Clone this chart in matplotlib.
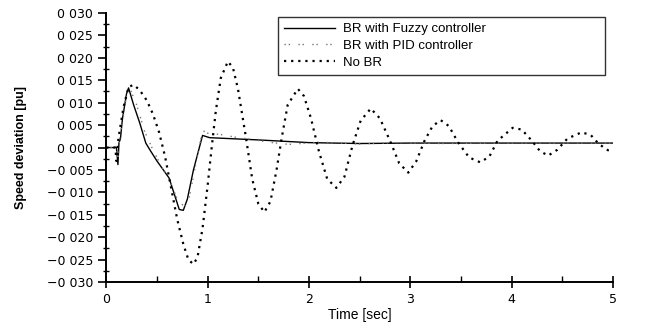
import matplotlib
matplotlib.use("Agg")
import matplotlib.pyplot as plt
from matplotlib.ticker import MultipleLocator, FuncFormatter

plt.rcParams['font.family'] = ['Liberation Sans', 'DejaVu Sans']

# No BR
t_nobr = [0.0, 0.09, 0.1, 0.12, 0.17, 0.22, 0.27, 0.33, 0.4, 0.46, 0.52, 0.58,
          0.64, 0.7, 0.76, 0.81, 0.86, 0.9, 0.95, 1.0, 1.04, 1.08, 1.13, 1.2,
          1.25, 1.3, 1.38, 1.44, 1.5, 1.56, 1.62, 1.68, 1.73, 1.79, 1.89, 1.95,
          2.02, 2.1, 2.18, 2.27, 2.35, 2.43, 2.51, 2.61, 2.7, 2.8, 2.89, 2.98,
          3.06, 3.14, 3.22, 3.3, 3.38, 3.47, 3.58, 3.69, 3.78, 3.86, 4.01, 4.1,
          4.2, 4.28, 4.36, 4.45, 4.55, 4.69, 4.78, 4.86, 4.95, 5.0]
v_nobr = [0.0, 0.0, -0.003, 0.002, 0.009, 0.0135, 0.014, 0.0128, 0.0105, 0.0075,
          0.0035, -0.002, -0.009, -0.016, -0.0215, -0.025, -0.026, -0.0245,
          -0.018, -0.0085, 0.0, 0.008, 0.0155, 0.0192, 0.0178, 0.013, 0.002,
          -0.007, -0.0125, -0.0144, -0.012, -0.005, 0.002, 0.0095, 0.0131,
          0.0115, 0.0065, -0.001, -0.007, -0.009, -0.0065, 0.0005, 0.006,
          0.0087, 0.0065, 0.0015, -0.0035, -0.0056, -0.003, 0.0015, 0.0048,
          0.0061, 0.0048, 0.0012, -0.0022, -0.0033, -0.002, 0.0015, 0.0044,
          0.004, 0.0015, -0.0008, -0.0018, -0.0005, 0.002, 0.0034, 0.0028,
          0.0008, -0.0006, -0.0004]

# BR with fuzzy controller
t_fuzzy = [0.0, 0.1, 0.115, 0.125, 0.14, 0.16, 0.2, 0.22, 0.27, 0.33, 0.39,
           0.43, 0.5, 0.62, 0.68, 0.72, 0.76, 0.8, 0.86, 0.95, 1.02, 1.5,
           2.0, 2.5, 3.0, 4.0, 5.0]
v_fuzzy = [0.0, 0.0, -0.0038, 0.001, 0.002, 0.0065, 0.012, 0.0133, 0.0095,
           0.0055, 0.001, -0.0005, -0.003, -0.0068, -0.011, -0.0138, -0.014,
           -0.0115, -0.005, 0.0027, 0.0022, 0.0017, 0.0011, 0.0009, 0.001,
           0.001, 0.001]

# BR with PID controller
t_pid = [0.0, 0.1, 0.115, 0.13, 0.16, 0.2, 0.24, 0.3, 0.38, 0.45, 0.55, 0.63,
         0.7, 0.77, 0.82, 0.88, 0.95, 1.0, 1.13, 1.3, 1.45, 1.6, 1.8, 2.1,
         2.5, 2.85, 3.3, 4.0, 5.0]
v_pid = [0.0, 0.0, -0.003, 0.0015, 0.006, 0.0115, 0.0128, 0.0095, 0.0035,
         0.0, -0.0045, -0.0075, -0.0115, -0.0132, -0.011, -0.004, 0.0038,
         0.0032, 0.0029, 0.0022, 0.0018, 0.0012, 0.0007, 0.0012, 0.0008,
         0.0011, 0.0009, 0.001, 0.001]

labels = ["BR with Fuzzy controller", "BR with PID controller", "No BR"]


def ylab(v, pos):
    s = f"{abs(v):.3f}".replace(".", " ")
    return ("\u2212" + s) if v < -1e-9 else s


fig = plt.figure(figsize=(6.48, 3.25), dpi=100)
ax = fig.add_axes([0.164, 0.132, 0.782, 0.828])

ax.plot(t_fuzzy, v_fuzzy, color="black", lw=1.0, label=labels[0])
ax.plot(t_pid, v_pid, color="#777777", lw=1.0, linestyle=(0, (1, 2, 1, 6)),
        label=labels[1])
ax.plot(t_nobr, v_nobr, color="black", lw=1.6, linestyle=(0, (1, 2.2)),
        label=labels[2])

ax.set_xlim(0, 5)
ax.set_ylim(-0.030, 0.030)
ax.xaxis.set_major_locator(MultipleLocator(1))
ax.xaxis.set_minor_locator(MultipleLocator(0.5))
ax.yaxis.set_major_locator(MultipleLocator(0.005))
ax.yaxis.set_minor_locator(MultipleLocator(0.0025))
ax.yaxis.set_major_formatter(FuncFormatter(ylab))

for s in ["top", "right"]:
    ax.spines[s].set_visible(False)
for s in ["left", "bottom"]:
    ax.spines[s].set_linewidth(1.4)

ax.tick_params(axis="y", which="major", direction="out", length=6, width=1.2,
               labelsize=9)
ax.tick_params(axis="y", which="minor", direction="inout", length=5, width=1.0)
ax.tick_params(axis="x", which="major", direction="inout", length=8, width=1.2,
               labelsize=9)
ax.tick_params(axis="x", which="minor", direction="in", length=4, width=1.0)
for lab in ax.get_yticklabels() + ax.get_xticklabels():
    lab.set_family(["DejaVu Sans"])

ax.set_xlabel("Time [sec]", fontsize=10, labelpad=2)
ax.set_ylabel("Speed deviation [pu]", fontsize=9, fontweight="bold",
              labelpad=14)

leg = ax.legend(loc="upper left", bbox_to_anchor=(0.339, 0.762, 0.645, 0.223),
                mode="expand", fontsize=9.5, frameon=True, fancybox=False,
                handlelength=3.9, handletextpad=0.6, borderpad=0.45,
                labelspacing=0.35, borderaxespad=0)
leg.get_frame().set_edgecolor("black")
leg.get_frame().set_linewidth(1.0)

fig.savefig("out.png", dpi=100)
